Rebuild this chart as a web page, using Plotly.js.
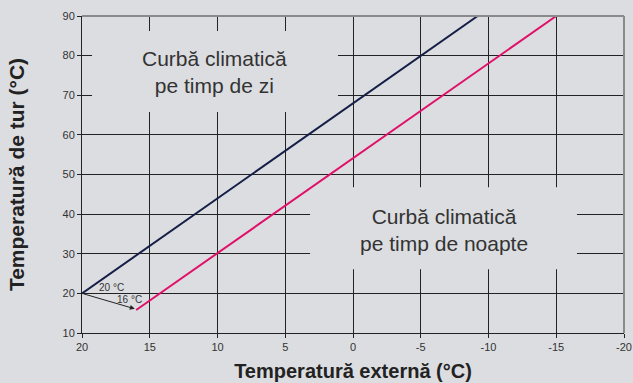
<!DOCTYPE html>
<html>
<head>
<meta charset="utf-8">
<script src="https://cdn.plot.ly/plotly-3.0.1.min.js"></script>
<style>html,body{margin:0;padding:0;background:#dcdde0;}#chart{width:633px;height:383px;}</style>
</head>
<body>
<div id="chart"></div>
<script>
// Data
const dayX = [20, -9.2];
const dayY = [20, 90];
const nightX = [16, -15];
const nightY = [15.8, 90];
const xTicks = [20, 15, 10, 5, 0, -5, -10, -15, -20];
const yTicks = [10, 20, 30, 40, 50, 60, 70, 80, 90];
const dayLabel = "Curbă climatică<br>pe timp de zi";
const nightLabel = "Curbă climatică<br>pe timp de noapte";
const xTitle = "Temperatură externă (°C)";
const yTitle = "Temperatură de tur (°C)";

const bg = '#dcdde0';
const traces = [
  {x: dayX, y: dayY, mode: 'lines', line: {color: '#141e46', width: 2}, hoverinfo: 'skip'},
  {x: nightX, y: nightY, mode: 'lines', line: {color: '#e0106a', width: 2}, hoverinfo: 'skip'}
];

const fam = 'Liberation Sans, Arial, sans-serif';
const layout = {
  width: 633, height: 383,
  paper_bgcolor: bg, plot_bgcolor: bg,
  showlegend: false,
  margin: {l: 82, r: 9, t: 16, b: 50},
  font: {family: fam, color: '#333'},
  xaxis: {
    range: [20, -20], tickvals: xTicks, ticktext: xTicks.map(String),
    showgrid: true, gridcolor: '#222', gridwidth: 1,
    zeroline: false, showline: true, linecolor: '#222', linewidth: 1,
    ticks: 'outside', ticklen: 4, tickcolor: '#222',
    tickfont: {size: 11, color: '#333'},
    title: {text: xTitle, font: {size: 20, color: '#222', family: fam, weight: 'bold'}, standoff: 11}
  },
  yaxis: {
    range: [10, 90], tickvals: yTicks,
    showgrid: true, gridcolor: '#222', gridwidth: 1,
    zeroline: false, showline: true, linecolor: '#222', linewidth: 1,
    ticks: 'outside', ticklen: 4, tickcolor: '#222',
    tickfont: {size: 11, color: '#333'},
    title: {text: yTitle, font: {size: 21, color: '#222', family: fam, weight: 'bold'}, standoff: 32}
  },
  shapes: [
    {type: 'rect', layer: 'between', xref: 'x', yref: 'y', x0: 19.26, x1: 1.11, y0: 65.75, y1: 86.2, fillcolor: bg, line: {width: 0}},
    {type: 'rect', layer: 'between', xref: 'x', yref: 'y', x0: 3.17, x1: -16.53, y0: 26.1, y1: 46.8, fillcolor: bg, line: {width: 0}},
    {type: 'line', xref: 'paper', yref: 'paper', x0: 0, x1: 1, y0: 1, y1: 1, line: {color: '#8a8a8a', width: 2}},
    {type: 'line', xref: 'paper', yref: 'paper', x0: 1, x1: 1, y0: 0, y1: 1, line: {color: '#8a8a8a', width: 2}}
  ],
  annotations: [
    {text: dayLabel, xref: 'paper', yref: 'paper', x: (214.5-82)/542, y: (332.7-72)/316.7, xanchor: 'center', yanchor: 'middle', showarrow: false, font: {size: 21, color: '#333'}, align: 'center'},
    {text: nightLabel, xref: 'paper', yref: 'paper', x: (443.5-82)/542, y: (332.7-229.5)/316.7, xanchor: 'center', yanchor: 'middle', showarrow: false, font: {size: 21, color: '#333'}, align: 'center'},
    {text: '20 °C', x: 17.82, y: 21.55, xanchor: 'center', yanchor: 'middle', showarrow: false, font: {size: 10, color: '#333'}},
    {text: '16 °C', x: 16.5, y: 18.5, xanchor: 'center', yanchor: 'middle', showarrow: false, font: {size: 10, color: '#333'}},
    {text: '', x: 16.1, y: 16.1, ax: 20, ay: 20, axref: 'x', ayref: 'y', showarrow: true, arrowhead: 2, arrowsize: 1, arrowwidth: 1, arrowcolor: '#222', standoff: 0}
  ]
};

Plotly.newPlot('chart', traces, layout, {displayModeBar: false, staticPlot: true});
</script>
</body>
</html>
